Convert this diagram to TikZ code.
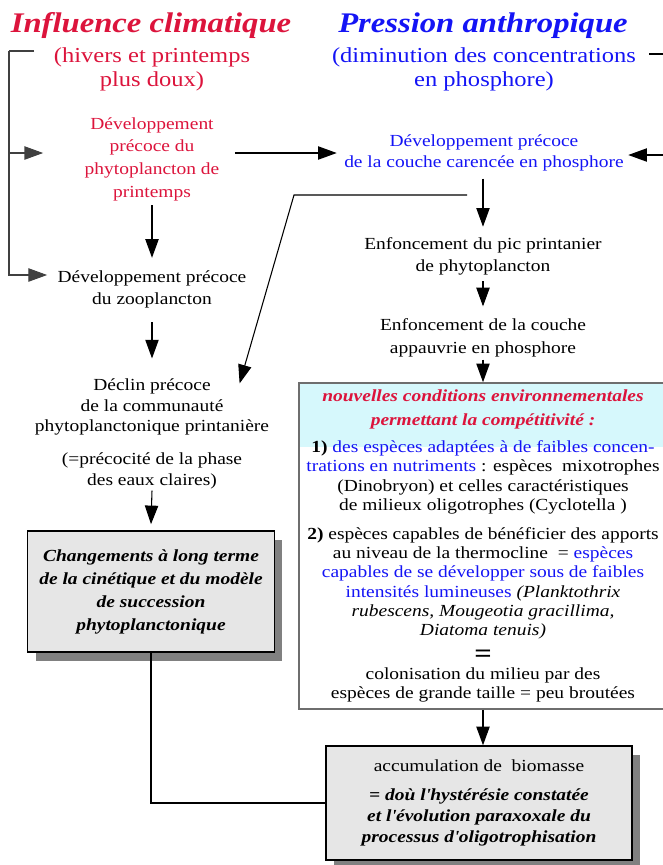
\documentclass[tikz,border=0pt]{standalone}
\usepackage{fontspec}
\setmainfont{Liberation Serif}[FakeStretch=1.15]
\usetikzlibrary{calc,arrows.meta,shadows}

\definecolor{climred}{RGB}{220,20,60}
\definecolor{anthblue}{RGB}{20,20,245}
\definecolor{headcyan}{RGB}{214,248,252}
\definecolor{boxgray}{RGB}{230,230,230}
\definecolor{shadegray}{RGB}{128,128,128}
\definecolor{framegray}{RGB}{110,110,110}

\begin{document}
\begin{tikzpicture}[x=0.75pt, y=-0.75pt, line width=0.8pt,
  every node/.style={inner sep=0pt, align=center, font=\fontsize{12.7}{17}\selectfont},
  arr/.style={-{Triangle[length=14pt,width=10pt]}},
  title/.style={font=\fontsize{21.3}{24}\selectfont\bfseries\itshape},
  subtitle/.style={font=\fontsize{16}{17.5}\selectfont},
  shadebox/.style={draw=black, line width=1.1pt, fill=boxgray,
    drop shadow={shadow xshift=6pt, shadow yshift=-6.5pt, fill=shadegray, opacity=1}}]

    \clip (0,0) rectangle (663,865);

    % Titles
    \node[title, text=climred] (climtitle) at (151,26) {Influence climatique};
    \node[title, text=anthblue] (anthtitle) at (483,26) {Pression anthropique};
    \node[subtitle, text=climred] (climsub) at (152,69.5) {(hivers et printemps\\plus doux)};
    \node[subtitle, text=anthblue] (anthsub) at (484,69.5) {(diminution des concentrations\\en phosphore)};

    % Left column
    \node[text=climred] (phyto) at (152,159) {Développement\\précoce du\\phytoplancton de\\printemps};
    \node[font=\fontsize{12.7}{16.5}\selectfont] (zoo) at (152,289) {Développement précoce\\du zooplancton};
    \node[font=\fontsize{12.7}{15.4}\selectfont] (declin) at (152,434) {Déclin précoce\\de la communauté\\phytoplanctonique printanière\\[9.4pt](=précocité de la phase\\des eaux claires)};
    \node[shadebox, minimum width=185pt, minimum height=90.75pt,
      font=\fontsize{12.7}{17.25}\selectfont\bfseries\itshape] (longbox) at (151,591.5)
      {Changements à long terme\\de la cinétique et du modèle\\de succession\\phytoplanctonique};

    % Right column
    \node[text=anthblue, font=\fontsize{12.7}{15.75}\selectfont] (pcouche) at (484,153) {Développement précoce\\de la couche carencée en phosphore};
    \node[font=\fontsize{12.7}{16.5}\selectfont] (pic) at (483,256) {Enfoncement du pic printanier\\de phytoplancton};
    \node[font=\fontsize{12.7}{17}\selectfont] (appauv) at (483,338) {Enfoncement de la couche\\appauvrie en phosphore};
    \node[draw=framegray, line width=1.2pt, minimum width=276pt, minimum height=244.5pt,
      font=\fontsize{12.7}{14.5}\selectfont,
      path picture={\fill[headcyan] (path picture bounding box.north west) rectangle ($(path picture bounding box.north east)+(0,64)$);}] (bigbox) at (483,546)
      {\textcolor{climred}{\bfseries\itshape nouvelles conditions environnementales}\\[4pt]
       \textcolor{climred}{\bfseries\itshape permettant la compétitivité :}\\[5.6pt]
       \textbf{1)} \textcolor{anthblue}{des espèces adaptées à de faibles concen-}\\
       \textcolor{anthblue}{trations en nutriments} : espèces\ \ mixotrophes\\
       (Dinobryon) et celles caractéristiques\\
       de milieux oligotrophes (Cyclotella )\\[7pt]
       \textbf{2)} espèces capables de bénéficier des apports\\
       au niveau de la thermocline\ \ = \textcolor{anthblue}{espèces}\\
       \textcolor{anthblue}{capables de se développer sous de faibles}\\
       \textcolor{anthblue}{intensités lumineuses} \textit{(Planktothrix}\\
       \textit{rubescens, Mougeotia gracillima,}\\
       \textit{Diatoma tenuis)}\\[5.5pt]
       {\fontsize{20}{20}\selectfont\bfseries =}\\[-1.8pt]
       colonisation du milieu par des\\
       espèces de grande taille = peu broutées};
    \node[shadebox, minimum width=229.5pt, minimum height=85.5pt,
      font=\fontsize{12.7}{16}\selectfont] (biomasse) at (479,803)
      {accumulation de\ \ biomasse\\[5.7pt]
       \bfseries\itshape = doù l\textquotesingle hystérésie constatée\\
       \bfseries\itshape et l\textquotesingle évolution paraxoxale du\\
       \bfseries\itshape processus d\textquotesingle oligotrophisation};

    % Brackets
    \coordinate (climtop) at (34,51);
    \coordinate (lbar) at (9,51);
    \coordinate (anthtop) at (649,54);
    \coordinate (rbar) at (668,54);
    \draw[black!75] (climtop) -- (lbar);
    \draw[black!75, arr] (lbar) |- ($(zoo.west)+(-10,-14)$);
    \draw[black!75, arr] ($(lbar)+(0,102)$) -- ($(phyto.west)+(-41,-6)$);
    \draw (anthtop) -- (rbar);
    \draw[arr] (rbar) |- ($(pcouche.east)+(4,2)$);

    % Arrows
    \draw[arr] ($(phyto.east)+(15,-6)$) -- ($(pcouche.west)+(-7,0)$);
    \draw[arr] ($(phyto.south)+(0,4)$) -- ($(zoo.north)+(0,-12)$);
    \draw[arr] ($(zoo.south)+(0,14)$) -- ($(declin.north)+(0,-20)$);
    \draw[arr] ($(declin.south)+(0,1)$) -- ($(longbox.north)+(0,-6)$);
    \draw[arr] ($(pcouche.south)+(-1,7)$) -- ($(pic.north)+(0,-10)$);
    \draw[arr] ($(pic.south)+(0,6)$) -- ($(appauv.north)+(0,-12)$);
    \draw[arr] ($(appauv.south)+(0,2)$) -- (bigbox.north);
    \draw[arr] (bigbox.south) -- (bigbox.south |- biomasse.north);
    \draw (longbox.south) |- (biomasse.west);

    % Diagonal to the decline
    \coordinate (diagstart) at (467,195);
    \coordinate (bend) at (294,195);
    \draw[arr] (diagstart) -- (bend) -- ($(declin.north east)+(-30,5)$);

\end{tikzpicture}
\end{document}
